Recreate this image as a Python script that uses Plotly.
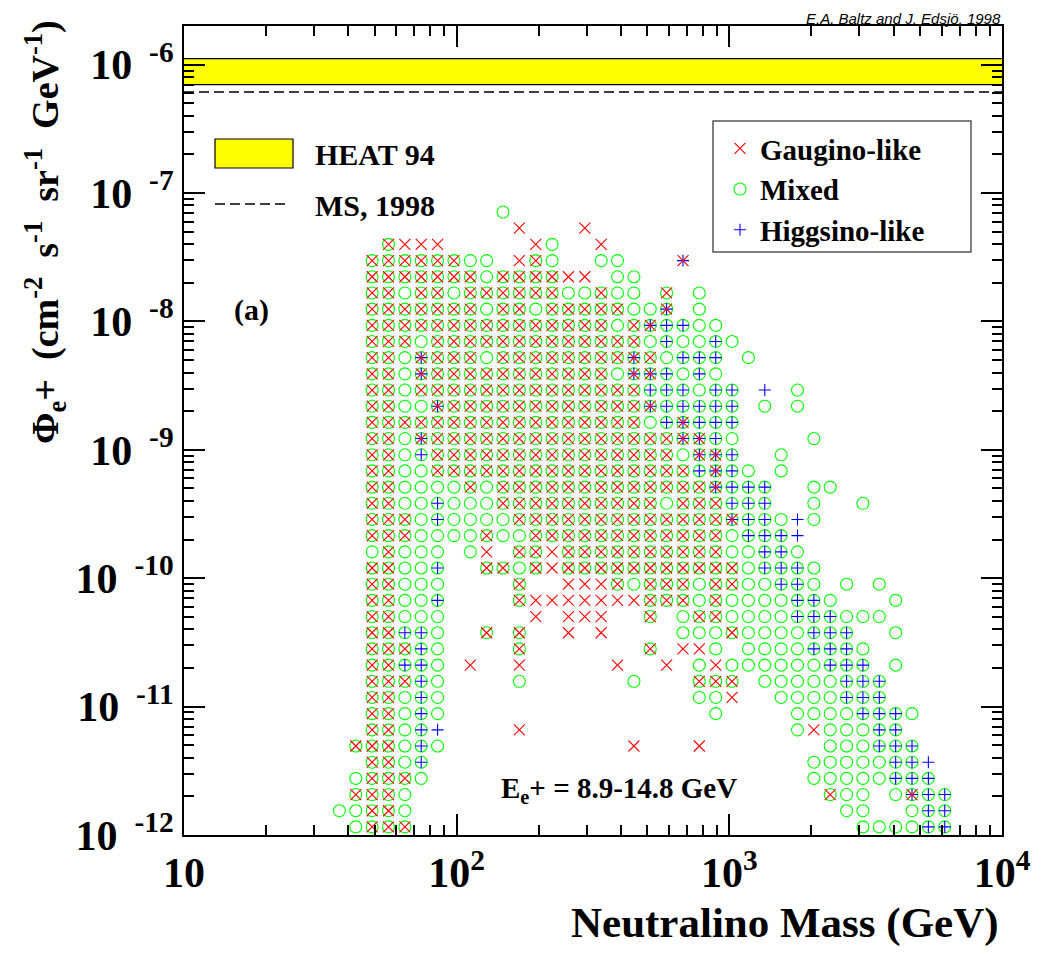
import math
import plotly.graph_objects as go

# ---------------- data ----------------
# neutralino mass bin centres (GeV), left -> right
mass_bins_gev = [37.15, 42.66, 48.98, 56.23, 64.57, 74.13, 85.11, 97.72, 112.2, 128.8,
                 147.9, 169.8, 195.0, 223.9, 257.0, 295.1, 338.8, 389.0, 446.7, 512.9,
                 588.8, 676.1, 776.2, 891.3, 1023, 1175, 1349, 1549, 1778, 2042,
                 2344, 2692, 3090, 3548, 4074, 4677, 5370, 6166]

# positron flux bin centres (cm^-2 s^-1 sr^-1 GeV^-1), top -> bottom (same order as grid_rows)
flux_bins = [7.111e-8, 5.320e-8, 3.980e-8, 2.977e-8, 2.228e-8, 1.667e-8, 1.247e-8, 9.325e-9,
             6.980e-9, 5.222e-9, 3.906e-9, 2.922e-9, 2.186e-9, 1.636e-9, 1.224e-9, 9.149e-10,
             6.851e-10, 5.125e-10, 3.834e-10, 2.868e-10, 2.146e-10, 1.605e-10, 1.201e-10, 8.984e-11,
             6.721e-11, 5.028e-11, 3.761e-11, 2.814e-11, 2.105e-11, 1.575e-11, 1.178e-11, 8.814e-12,
             6.594e-12, 4.933e-12, 3.690e-12, 2.761e-12, 2.065e-12, 1.545e-12, 1.156e-12]

# occupancy of each (flux, mass) cell; one character per mass bin ('|' only groups 10 bins)
# x = gaugino-like, o = mixed, p = higgsino-like, b = x+o, q = o+p, a = x+o+p, s = x+p, . = none
grid_rows = [
    "..........|o.........|..........|........",
    "..........|.x...x....|..........|........",
    "...bxxx...|..xo..x...|..........|........",
    "..bbbbbboo|.xbo..oo..|.s........|........",
    "..bbbbbbbo|bbbbxx.oo.|..........|........",
    "..bbobbobb|bbbbooboo.|b.o.......|........",
    "..bbbbbbbo|bbobbbbboo|a.o.......|........",
    "..bbbbbbbb|bbbbbbboba|qqoo......|........",
    "..bbbobbbb|bbbbbbbbbo|qooqo.....|........",
    "..bboabbbo|bbbbbbbbab|oqqq.o....|........",
    "..bboabbbb|bbbbbbboaa|qoqo......|........",
    "..bbobbbbb|bbbbbbbbbq|qqoqq.p.o.|........",
    "..bbooabbb|bbbbbbbbba|qqqqq.o.o.|........",
    "..bbbbbbbb|bbbbbbbbbo|qaqqq.....|........",
    "..bboabbbb|bbbbbbbbbb|baaqo....o|........",
    "..bboqbbbb|bbbbbbbbbb|boaaq..o..|........",
    "..bboobbbb|bbbbbbbbbb|bbqaqo.o..|........",
    "..bboooobo|bbbbbbbbbb|bbbaqqq..o|o.......",
    "..bbooqooo|bbbbbbbbbb|obbbqqq..o|..o.....",
    "..bbboqooo|obbbbbbbbb|bbbbaqqopo|........",
    "..bbboooob|oobbbbbbbb|bbbboqqqp.|........",
    "..obooo.ox|.bbxbbbbbb|bbbbooqqo.|........",
    "..bbooq..b|bobxbbbbbb|bbbbboqqqo|........",
    "..bbooo...|.b..xxxbob|bbobbooqqo|.o.o....",
    "..bbooq...|.bxxxxxxxb|bbobooooqq|o...o...",
    "..bbooo...|..x.xxx..b|.obbooooqq|qooo....",
    "..bbqqo..b|.b..x.x...|.ooobooooq|qq..o...",
    "..bbbqo...|.b.......b|.xxo.ooooq|qqo.....",
    "..bbqqo.x.|.x.....x..|x.oxoooooo|qqq.o...",
    "..bbbqo...|.o......o.|..bbb.oooo|oqqq....",
    "..bboqo...|..........|..oox..ooo|oqqq....",
    "..bboqo...|..........|...o....oo|ooqqqo..",
    "..bboqp...|.x........|........ox|oooqq...",
    ".bbboqo...|........x.|..x.......|oooqqq..",
    "..bboq....|..........|.........o|ooooqqp.",
    ".obbbo....|..........|.........o|ooooqqq.",
    ".bbbo.....|..........|..........|boo.oaqq",
    "oobbo.....|..........|..........|.oo..oqq",
    ".obbb.....|..........|..........|..ooooqq",
]

series_names = ["Gaugino-like", "Mixed", "Higgsino-like"]
series_codes = {"Gaugino-like": "xbas", "Mixed": "obqa", "Higgsino-like": "pqas"}

heat94_band = [6.98e-7, 1.114e-6]      # HEAT 94 measurement band
ms1998_level = 6.12e-7                  # MS, 1998 background
mass_axis_range = [10, 1e4]
flux_axis_range = [1e-12, 2e-6]

x_tick_vals = [10, 100, 1000, 10000]
x_tick_text = ["10", "10<sup>2</sup>", "10<sup>3</sup>", "10<sup>4</sup>"]
y_tick_vals = [1e-12, 1e-11, 1e-10, 1e-9, 1e-8, 1e-7, 1e-6]
y_exponents = ["-12", "-11", "-10", "-9", "-8", "-7", "-6"]
y_tick_text = ["10\u2009\u2009<sup>%s</sup>" % e for e in y_exponents]

# ---------------- build series ----------------
points = {n: ([], []) for n in series_names}
for flux, row in zip(flux_bins, grid_rows):
    cells = row.replace("|", "")
    for mass, code in zip(mass_bins_gev, cells):
        for n in series_names:
            if code in series_codes[n]:
                points[n][0].append(mass)
                points[n][1].append(flux)

styles = {
    "Gaugino-like": dict(symbol="x-thin-open", color="#ff0000", size=11, rank=1),
    "Mixed": dict(symbol="circle-open", color="#00ff00", size=12, rank=2),
    "Higgsino-like": dict(symbol="cross-thin-open", color="#0000ff", size=8.6, rank=3),
}

SERIF = "Liberation Serif"
OFF = 8                      # the page places the figure 8 px from its top-left corner
W, H = 1053 - OFF, 955 - OFF
PX0, PX1, PY0, PY1 = 184, 1002, 26, 835     # plot frame in page pixels
L, R, T, B = PX0 - OFF, W - (PX1 - OFF), PY0 - OFF, H - (PY1 - OFF)


def px_x(p):
    return (p - PX0) / (PX1 - PX0)


def px_y(p):
    return (PY1 - p) / (PY1 - PY0)


fig = go.Figure()

# HEAT 94 band and MS 1998 line
fig.add_trace(go.Scatter(x=mass_axis_range, y=[heat94_band[0]] * 2, mode="lines",
                         line=dict(color="black", width=1.2), showlegend=False, hoverinfo="skip"))
fig.add_trace(go.Scatter(x=mass_axis_range, y=[heat94_band[1]] * 2, mode="lines",
                         line=dict(color="black", width=1.2), fill="tonexty",
                         fillcolor="#ffff00", showlegend=False, hoverinfo="skip"))
fig.add_trace(go.Scatter(x=mass_axis_range, y=[ms1998_level] * 2, mode="lines",
                         line=dict(color="black", width=1.5, dash="10px,5px"),
                         showlegend=False, hoverinfo="skip"))

for n in ["Mixed", "Higgsino-like", "Gaugino-like"]:
    s = styles[n]
    fig.add_trace(go.Scatter(
        x=points[n][0], y=points[n][1], mode="markers", name="<b>%s</b>" % n,
        legendrank=s["rank"],
        marker=dict(symbol=s["symbol"], size=s["size"], color=s["color"],
                    line=dict(color=s["color"], width=1.1)),
    ))

x_minor = [m * 10 ** e for e in range(1, 4) for m in range(2, 10)]
y_minor = [m * 10.0 ** e for e in range(-12, -5) for m in range(2, 10)
           if m * 10.0 ** e <= flux_axis_range[1]]

axis_common = dict(
    type="log", showline=True, linecolor="black", linewidth=2, mirror="allticks",
    ticks="inside", ticklen=21, tickwidth=1.5, tickcolor="black",
    showgrid=False, zeroline=False, tickmode="array",
    tickfont=dict(family=SERIF, size=42, color="black", weight="bold"),
)

fig.update_xaxes(**axis_common,
                 range=[math.log10(v) for v in mass_axis_range],
                 tickvals=x_tick_vals, ticktext=x_tick_text,
                 minor=dict(ticks="inside", ticklen=10, tickwidth=1.5, tickcolor="black",
                            tickmode="array", tickvals=x_minor, showgrid=False))
fig.update_yaxes(**axis_common,
                 range=[math.log10(v) for v in flux_axis_range],
                 tickvals=y_tick_vals, ticktext=y_tick_text,
                 minor=dict(ticks="inside", ticklen=10, tickwidth=1.5, tickcolor="black",
                            tickmode="array", tickvals=y_minor, showgrid=False))

shapes = [
    # right legend frame
    dict(type="rect", xref="paper", yref="paper", x0=px_x(713), x1=px_x(971),
         y0=px_y(252), y1=px_y(121), line=dict(color="#555555", width=1.5),
         fillcolor="white", layer="below"),
    # HEAT 94 legend swatch
    dict(type="rect", xref="paper", yref="paper", x0=px_x(215), x1=px_x(293),
         y0=px_y(168), y1=px_y(139), line=dict(color="black", width=1.2),
         fillcolor="#ffff00"),
    # MS 1998 legend line
    dict(type="line", xref="paper", yref="paper", x0=px_x(215), x1=px_x(288),
         y0=px_y(204), y1=px_y(204), line=dict(color="black", width=1.5, dash="10px,5px")),
]

big = dict(family=SERIF, size=30, color="black")
NB = "&nbsp;&nbsp;"
annotations = [
    dict(text="<b>HEAT 94</b>", x=px_x(313), y=px_y(154), xanchor="left", yanchor="middle",
         font=big),
    dict(text="<b>MS, 1998</b>", x=px_x(313), y=px_y(205), xanchor="left", yanchor="middle",
         font=big),
    dict(text="<b>(a)</b>", x=px_x(232), y=px_y(310), xanchor="left", yanchor="middle",
         font=big),
    dict(text="<b>E<sub>e</sub>+ = 8.9-14.8 GeV</b>", x=px_x(499), y=px_y(790),
         xanchor="left", yanchor="middle", font=dict(family=SERIF, size=29, color="black")),
    dict(text="<i>E.A. Baltz and J. Edsjö, 1998</i>", x=px_x(1002), y=px_y(18.5),
         xanchor="right", yanchor="middle", borderpad=0,
         font=dict(family="Liberation Sans", size=15, color="black")),
    dict(text="<b>Neutralino Mass (GeV)</b>", x=px_x(1001), y=px_y(923),
         xanchor="right", yanchor="middle", font=dict(family=SERIF, size=43, color="black")),
    dict(text=("<b>Φ<sub>e</sub>+" + NB + "(cm<sup>-2</sup>" + NB + "s<sup>-1</sup>" + NB
               + "sr<sup>-1</sup>" + NB + "GeV<sup>-1</sup>)</b>"),
         x=px_x(45), y=px_y(18), xanchor="center", yanchor="top", textangle=-90,
         font=dict(family=SERIF, size=38, color="black")),
]
for a in annotations:
    a.update(xref="paper", yref="paper", showarrow=False)

fig.update_layout(
    width=W, height=H,
    margin=dict(l=L, r=R, t=T, b=B, pad=0),
    paper_bgcolor="white", plot_bgcolor="white",
    shapes=shapes, annotations=annotations,
    legend=dict(x=px_x(720), y=px_y(123), xanchor="left", yanchor="top",
                traceorder="normal",
                bgcolor="rgba(0,0,0,0)", borderwidth=0,
                font=dict(family=SERIF, size=29, color="black")),
)

fig.write_html("out.html")
